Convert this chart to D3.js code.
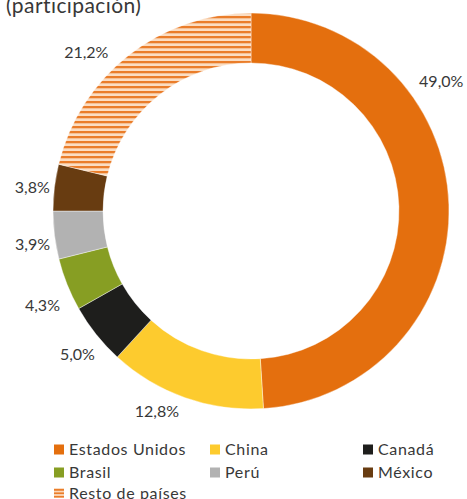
<!DOCTYPE html>
<html><head><meta charset="utf-8">
<script src="https://cdn.jsdelivr.net/npm/d3@7"></script>
<style>
body{margin:0;background:#fff;}
svg{display:block;font-family:Lato,"Open Sans",sans-serif;}
</style></head>
<body><svg id="c" width="467" height="499"></svg>
<script>
const categories = ["Estados Unidos","China","Canadá","Brasil","Perú","México","Resto de países"];
const values = [49.0,12.8,5.0,4.3,3.9,3.8,21.2];
const valueLabels = ["49,0%","12,8%","5,0%","4,3%","3,9%","3,8%","21,2%"];
const colors = ["#E46F0E","#FDCB2E","#1E1E1C","#879E23","#B2B2B2","#683C11","url(#stripes)"];
const title = "(participación)";
// label placement: angle (deg, clockwise from top) and distance from centre
const labelLayout = [[55.8,230],[205.2,221],[230.5,225],[245.6,229],[261.4,221],[276.3,220],[314,229]];

const svg = d3.select("#c");
const defs = svg.append("defs");
const pat = defs.append("pattern").attr("id","stripes").attr("patternUnits","userSpaceOnUse")
  .attr("width",10).attr("height",5);
pat.append("rect").attr("width",10).attr("height",5).attr("fill","#FBDDC2");
pat.append("rect").attr("y",0).attr("width",10).attr("height",2.3).attr("fill","#EA7D2A");
const pat2 = defs.append("pattern").attr("id","stripesL").attr("patternUnits","userSpaceOnUse")
  .attr("width",10).attr("height",3.4).attr("y",489);
pat2.append("rect").attr("width",10).attr("height",3.4).attr("fill","#FBDDC2");
pat2.append("rect").attr("width",10).attr("height",1.8).attr("fill","#EA7D2A");

const txtC = "#383838";
svg.append("text").attr("x",6).attr("y",13).attr("font-size",21).attr("fill",txtC)
  .attr("letter-spacing","0.02em")
  .text(title);

const cx=251, cy=211, R=198, r0=148;
const pie = d3.pie().sort(null).value(d=>d);
const arcs = pie(values);
const arc = d3.arc().innerRadius(r0).outerRadius(R);
const g = svg.append("g").attr("transform",`translate(${cx},${cy})`);
g.selectAll("path").data(arcs).join("path")
  .attr("d",arc).attr("fill",(d,i)=>colors[i])
  .attr("stroke","#fff").attr("stroke-width",0.4);

g.selectAll("text.lab").data(arcs).join("text").attr("class","lab")
  .attr("x",(d,i)=>Math.sin(labelLayout[i][0]*Math.PI/180)*labelLayout[i][1])
  .attr("y",(d,i)=>-Math.cos(labelLayout[i][0]*Math.PI/180)*labelLayout[i][1])
  .attr("dy","0.36em").attr("text-anchor","middle")
  .attr("font-size",16).attr("fill",txtC)
  .text((d,i)=>valueLabels[i]);

// legend
const colX=[54,210,363], rowY=[449.5,472.5,493];
const lg = svg.append("g");
categories.forEach((c,i)=>{
  const x=colX[i%3], y=rowY[Math.floor(i/3)];
  lg.append("rect").attr("x",x).attr("y",y-5).attr("width",10).attr("height",10)
    .attr("fill", i===6 ? "url(#stripesL)" : colors[i]);
  lg.append("text").attr("x",x+15).attr("y",y).attr("dy","0.36em")
    .attr("font-size",16).attr("fill",txtC)
    .attr("letter-spacing","0.04em").text(c);
});
</script></body></html>
